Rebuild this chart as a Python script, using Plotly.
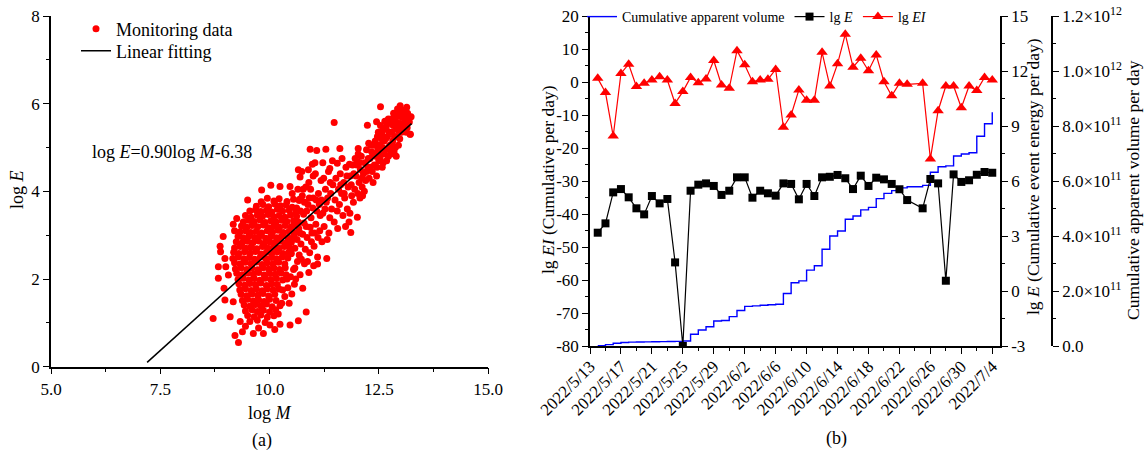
import plotly.graph_objects as go
import pandas as pd

W, H = 1146, 451
FONT = "Liberation Serif"

# ---------------- panel (a): log M vs log E ----------------
monitoring_points = [
    # dense core
    (9.50,3.80),(9.81,3.76),(9.95,3.84),(10.10,3.78),(10.22,3.83),(10.40,3.77),(10.55,3.82),(10.68,3.79),
    (9.70,3.66),(9.85,3.70),(9.98,3.65),(10.12,3.71),(10.25,3.67),(10.38,3.69),(10.52,3.64),
    (9.55,3.55),(9.68,3.58),(9.80,3.54),(9.93,3.57),(10.05,3.53),(10.18,3.59),(10.30,3.55),(10.45,3.57),(10.60,3.52),
    (9.45,3.45),(9.58,3.41),(9.72,3.46),(9.84,3.43),(9.97,3.47),(10.10,3.42),(10.22,3.45),(10.35,3.41),(10.48,3.46),(10.62,3.43),
    (9.40,3.30),(9.52,3.34),(9.65,3.31),(9.78,3.35),(9.90,3.29),(10.03,3.33),(10.15,3.30),(10.28,3.34),(10.40,3.31),(10.55,3.33),
    (9.36,3.21),(9.48,3.18),(9.60,3.22),(9.73,3.19),(9.86,3.23),(9.98,3.17),(10.10,3.21),(10.23,3.18),(10.36,3.22),(10.50,3.19),(10.64,3.21),
    (9.32,3.07),(9.45,3.10),(9.57,3.06),(9.70,3.09),(9.82,3.05),(9.95,3.10),(10.07,3.07),(10.20,3.11),(10.32,3.06),(10.45,3.09),(10.58,3.05),
    (9.28,2.97),(9.40,2.94),(9.53,2.98),(9.66,2.95),(9.78,2.99),(9.91,2.93),(10.03,2.97),(10.16,2.94),(10.28,2.98),(10.42,2.95),(10.55,2.97),
    (9.24,2.85),(9.37,2.82),(9.50,2.86),(9.62,2.83),(9.75,2.87),(9.87,2.81),(10.00,2.85),(10.12,2.83),(10.25,2.86),(10.38,2.82),(10.50,2.84),
    (9.20,2.71),(9.33,2.74),(9.46,2.70),(9.58,2.73),(9.71,2.69),(9.84,2.74),(9.96,2.71),(10.09,2.73),(10.22,2.70),(10.34,2.74),(10.47,2.71),
    (9.18,2.61),(9.30,2.58),(9.43,2.62),(9.56,2.59),(9.68,2.63),(9.81,2.57),(9.93,2.61),(10.06,2.59),(10.18,2.62),(10.31,2.58),(10.44,2.61),
    (9.16,2.47),(9.28,2.50),(9.41,2.46),(9.54,2.49),(9.66,2.45),(9.79,2.50),(9.91,2.47),(10.04,2.49),(10.16,2.46),(10.29,2.50),(10.42,2.48),
    (9.20,2.37),(9.33,2.34),(9.45,2.38),(9.58,2.35),(9.70,2.39),(9.83,2.33),(9.95,2.37),(10.08,2.35),(10.21,2.38),(10.35,2.34),
    (9.22,2.23),(9.35,2.26),(9.48,2.22),(9.60,2.25),(9.73,2.21),(9.85,2.26),(9.98,2.23),(10.10,2.25),(10.23,2.22),(10.36,2.26),
    (9.25,2.13),(9.38,2.10),(9.50,2.14),(9.63,2.11),(9.75,2.15),(9.88,2.09),(10.00,2.13),(10.13,2.11),(10.26,2.14),
    (9.28,1.99),(9.40,2.02),(9.53,1.98),(9.65,2.01),(9.78,1.97),(9.90,2.02),(10.03,1.99),(10.16,2.01),(10.30,1.98),
    (9.30,1.89),(9.43,1.86),(9.55,1.90),(9.68,1.87),(9.80,1.91),(9.93,1.85),(10.05,1.89),(10.18,1.87),
    (9.32,1.75),(9.45,1.78),(9.58,1.74),(9.70,1.77),(9.83,1.73),(9.95,1.78),(10.08,1.75),(10.22,1.77),
    (9.35,1.65),(9.48,1.62),(9.60,1.66),(9.73,1.63),(9.85,1.67),(9.98,1.61),(10.12,1.65),
    (9.38,1.51),(9.50,1.54),(9.63,1.50),(9.75,1.53),(9.88,1.49),(10.00,1.54),(10.15,1.51),
    (9.42,1.41),(9.55,1.38),(9.68,1.42),(9.80,1.39),(9.93,1.43),(10.06,1.37),
    (9.45,1.27),(9.60,1.30),(9.72,1.26),(9.86,1.29),(10.00,1.25),(10.14,1.30),
    (9.50,1.17),(9.65,1.14),(9.80,1.18),(9.95,1.13),(10.10,1.16),
    (9.55,1.03),(9.72,1.06),(9.90,1.01),
    # scattered edge points
    (8.71,1.10),(8.83,2.02),(8.94,2.97),(8.87,2.75),(8.88,2.62),(8.98,2.47),(8.83,2.28),(9.00,2.28),
    (9.06,2.09),(8.96,1.79),(8.98,1.52),(9.17,1.48),(9.10,1.14),(9.21,0.71),(9.29,0.55),(9.63,0.76),
    (9.86,0.76),(9.33,1.03),(10.01,0.95),(10.24,0.97),(10.47,0.95),(10.66,1.05),(10.84,1.25),(10.51,1.66),
    (10.45,1.45),(10.24,1.39),(10.57,1.88),(9.82,4.03),(10.03,4.14),(10.24,4.11),(10.47,4.11),(10.70,4.33),
    (9.25,3.38),(9.17,3.25),(9.20,3.10),(9.45,0.92),(9.75,0.88),(10.12,0.85),(9.38,0.80),
    # right edge of the core
    (10.50,2.58),(10.55,2.22),(10.48,2.05),(10.42,1.80),(10.38,2.10),(10.35,1.60),(10.30,1.75),(10.28,1.45),
    (10.20,1.20),(10.40,2.00),
    # transition 10.5 - 11.4
    (10.62,3.62),(10.66,3.30),(10.70,3.05),(10.72,2.80),(10.68,2.55),(10.75,3.90),(10.78,3.48),(10.80,2.35),
    (10.84,3.20),(10.86,2.95),(10.88,3.70),(10.90,4.20),(10.92,2.60),(10.95,3.40),(10.97,3.05),(11.00,3.85),
    (11.02,2.75),(11.05,4.40),(11.06,3.25),(11.08,3.55),(11.10,2.50),(11.12,3.95),(11.15,3.10),(11.18,4.25),
    (11.20,2.85),(10.74,4.45),(10.83,4.10),(10.65,4.05),(10.70,2.10),(10.58,2.25),(10.90,2.15),(11.14,3.70),
    (10.98,4.62),(10.80,3.75),(10.60,2.00),
    (10.52,3.95),(10.58,2.70),(10.63,2.90),(10.67,3.15),(10.71,3.55),(10.73,2.45),(10.76,3.02),(10.79,3.28),
    (10.82,2.68),(10.85,3.55),(10.87,2.40),(10.91,3.85),(10.93,3.18),(10.96,2.85),(10.99,3.62),(11.03,3.05),
    (11.07,3.80),(11.11,2.95),(11.16,3.45),(11.19,3.80),(11.24,4.30),(11.27,3.60),(11.33,3.85),(11.39,4.20),
    (10.57,3.25),(10.64,2.40),(10.77,4.05),(10.69,3.82),(10.94,4.05),(11.01,2.30),
    # 11.2 - 11.9
    (11.22,3.50),(11.25,3.20),(11.28,4.05),(11.30,3.75),(11.32,2.90),(11.35,4.45),(11.38,3.40),(11.40,3.95),
    (11.42,3.60),(11.45,4.15),(11.48,3.30),(11.50,3.80),(11.52,4.30),(11.55,3.55),(11.58,4.05),(11.60,3.70),
    (11.62,4.40),(11.65,3.95),(11.68,3.45),(11.70,4.20),(11.72,3.85),(11.75,4.55),(11.78,3.60),(11.80,4.10),
    (11.82,3.30),(11.85,4.35),(11.88,3.90),(11.90,4.60),(11.36,3.05),(11.44,4.70),(11.56,3.15),(11.66,4.75),
    (11.74,3.20),(11.92,3.75),(11.63,4.15),(11.77,4.35),(11.87,4.15),(11.93,4.40),(11.71,3.95),
    # 11.9 - 12.5
    (11.95,4.05),(11.98,4.35),(12.00,4.60),(12.02,3.95),(12.05,4.20),(12.08,4.50),(12.10,4.80),(12.12,4.10),
    (12.15,4.40),(12.18,4.65),(12.20,4.25),(12.22,4.95),(12.25,4.55),(12.28,4.30),(12.30,4.75),(12.32,5.05),
    (12.35,4.45),(12.38,4.85),(12.40,4.60),(12.42,5.15),(12.45,4.35),(12.48,4.95),(12.50,4.70),(12.03,4.85),
    (12.13,3.90),(12.27,5.10),(12.37,4.20),(12.47,5.25),(12.17,4.00),(12.07,3.85),(12.06,4.65),(12.11,4.30),
    (11.96,4.75),(12.22,4.45),(12.26,4.75),(12.31,4.55),(12.34,4.90),(12.39,5.05),(12.43,4.80),(12.46,4.55),
    (12.49,5.35),
    # 12.5 - 13.25
    (12.52,5.05),(12.55,4.85),(12.57,5.30),(12.60,4.65),(12.62,5.15),(12.65,4.95),(12.67,5.45),(12.70,5.25),
    (12.72,4.80),(12.75,5.05),(12.77,5.55),(12.80,5.35),(12.82,5.15),(12.85,4.90),(12.87,5.65),(12.90,5.45),
    (12.92,5.25),(12.95,5.05),(12.97,5.75),(13.00,5.55),(13.02,5.35),(13.05,5.70),(13.08,5.50),(13.10,5.80),
    (13.12,5.62),(13.15,5.45),(13.18,5.72),(13.22,5.30),(13.24,5.70),(12.58,4.55),(12.68,4.70),(12.78,4.85),
    (12.88,5.00),(12.60,5.40),(12.72,5.65),(12.84,5.78),(12.98,5.20),(13.06,5.85),(12.54,5.50),(12.64,5.60),
    (12.90,4.80),(12.93,5.88),(12.53,4.75),(12.56,5.20),(12.59,5.00),(12.63,4.85),(12.66,5.20),(12.69,5.55),
    (12.74,5.35),(12.76,4.95),(12.79,5.65),(12.83,5.50),(12.86,5.25),(12.89,5.60),(12.94,5.40),(12.96,5.55),
    (13.01,5.70),(13.04,5.45),(13.09,5.65),(13.13,5.35),(13.16,5.78),(13.20,5.58),(12.81,5.05),(12.99,5.95),
    # isolated points
    (11.48,5.57),(12.54,5.93),(13.14,5.92),(13.22,5.30),(11.31,2.47),(11.10,2.34),(10.76,1.79),(11.84,3.50),
    (12.01,3.41),(11.86,3.06),(10.93,4.96),(11.08,4.93),(11.29,4.96),(11.61,4.98),(11.04,4.65),(11.22,4.65),
    (11.38,4.52),(11.55,4.64),(11.83,4.62),(10.66,4.49),(10.89,4.49),(11.00,4.35),(12.03,4.98),(12.01,4.68),
    (12.24,5.51),(12.45,5.59),
]
log_m = [p[0] for p in monitoring_points]
log_e = [p[1] for p in monitoring_points]

fit_slope, fit_intercept = 0.90, -6.38
fit_m = [7.2, 13.25]
fit_e = [fit_slope * m + fit_intercept for m in fit_m]

# ---------------- panel (b): daily monitoring series ----------------
days = [d for d in pd.date_range("2022-05-14", "2022-07-04") if d != pd.Timestamp("2022-06-24")]

lg_e_daily = [3.18, 3.69, 5.38, 5.56, 5.11, 4.51, 4.18, 5.18, 4.78, 5.02,
              1.56, -3.00, 5.47, 5.80, 5.87, 5.73, 5.24, 5.47, 6.20, 6.20,
              5.09, 5.47, 5.33, 5.20, 5.87, 5.84, 5.00, 5.84, 5.18, 6.20,
              6.23, 6.33, 6.15, 5.56, 6.29, 5.73, 6.18, 6.09, 5.84, 5.55,
              4.96, 4.51, 6.11, 5.87, 0.56, 6.36, 5.95, 6.04, 6.34, 6.49, 6.45]

lg_ei_daily = [1.1, -3.2, -16.4, 2.6, 5.4, -1.4, -0.4, 0.6, 1.6, 0.6,
               -6.5, -2.9, 1.4, -0.2, 0.9, 6.5, -0.9, -1.9, 9.5, 5.2,
               0.1, 0.6, 0.8, 3.8, -13.7, -10.0, -2.4, -5.5, -5.5, 9.0,
               -1.2, 5.5, 14.5, 4.5, 7.2, 3.4, 8.2, 0.1, -4.2, -0.4,
               -0.7, -0.4, -23.3, -8.7, -1.2, -1.2, -7.8, -1.2, -2.6, 1.4, 0.6]

# cumulative apparent volume, in units of 1e11
cum_volume_e11 = [0.01, 0.05, 0.10, 0.13, 0.14, 0.145, 0.15, 0.155, 0.16, 0.165,
                  0.17, 0.18, 0.43, 0.58, 0.70, 0.91, 0.93, 1.07, 1.29, 1.44,
                  1.46, 1.48, 1.50, 1.52, 1.91, 2.30, 2.37, 2.76, 2.92, 3.52,
                  4.00, 4.18, 4.61, 4.73, 4.95, 5.04, 5.36, 5.55, 5.65, 5.75,
                  5.79, 5.84, 6.32, 6.52, 6.55, 6.91, 6.98, 7.03, 7.63, 8.08, 8.50]
cum_volume = [v * 1e11 for v in cum_volume_e11]

date_ticks = ["2022-05-13", "2022-05-17", "2022-05-21", "2022-05-25", "2022-05-29",
              "2022-06-02", "2022-06-06", "2022-06-10", "2022-06-14", "2022-06-18",
              "2022-06-22", "2022-06-26", "2022-06-30", "2022-07-04"]
date_labels = ["2022/5/13", "2022/5/17", "2022/5/21", "2022/5/25", "2022/5/29",
               "2022/6/2", "2022/6/6", "2022/6/10", "2022/6/14", "2022/6/18",
               "2022/6/22", "2022/6/26", "2022/6/30", "2022/7/4"]
ei_ticks = [-80, -70, -60, -50, -40, -30, -20, -10, 0, 10, 20]
e_ticks = [-3, 0, 3, 6, 9, 12, 15]
vol_ticks = [0, 2e11, 4e11, 6e11, 8e11, 1.0e12, 1.2e12]
vol_labels = ["0.0", "2.0×10<sup>11</sup>", "4.0×10<sup>11</sup>", "6.0×10<sup>11</sup>",
              "8.0×10<sup>11</sup>", "1.0×10<sup>12</sup>", "1.2×10<sup>12</sup>"]


def px_x(p):
    return p / W


def px_y(p):
    return 1 - p / H


fig = go.Figure()

# panel (a)
fig.add_trace(go.Scatter(
    x=log_m, y=log_e, mode="markers", name="Monitoring data",
    marker=dict(color="#ff0000", size=7, line=dict(width=0)),
    xaxis="x", yaxis="y", legend="legend2"))
fig.add_trace(go.Scatter(
    x=fit_m, y=fit_e, mode="lines", name="Linear fitting",
    line=dict(color="black", width=1.5),
    xaxis="x", yaxis="y", legend="legend3"))

# panel (b)
fig.add_trace(go.Scatter(
    x=days, y=cum_volume, mode="lines", name="Cumulative apparent volume",
    line=dict(color="#0000ff", width=1.4, shape="hv"),
    xaxis="x2", yaxis="y2"))
fig.add_trace(go.Scatter(
    x=days, y=lg_e_daily, mode="lines+markers", name="lg <i>E</i>",
    line=dict(color="black", width=1.2),
    marker=dict(symbol="square", size=8, color="black"),
    xaxis="x2", yaxis="y3"))
fig.add_trace(go.Scatter(
    x=days, y=lg_ei_daily, mode="lines+markers", name="lg <i>EI</i>",
    line=dict(color="#ff0000", width=1.2),
    marker=dict(symbol="triangle-up", size=10, color="#ff0000"),
    xaxis="x2", yaxis="y4"))

axis_common = dict(showgrid=False, zeroline=False, showline=True, linecolor="black",
                   linewidth=1.5, ticks="outside", ticklen=6, tickwidth=1.3, automargin=False,
                   tickcolor="black", tickfont=dict(family=FONT, size=17, color="black"))
minor_common = dict(ticks="outside", ticklen=3.5, tickwidth=1.3, tickcolor="black")
legend_common = dict(bgcolor="rgba(0,0,0,0)", itemwidth=30, tracegroupgap=0,
                     xanchor="left", yanchor="middle")

fig.update_layout(
    template="none",
    width=W, height=H,
    margin=dict(l=0, r=0, t=0, b=0, autoexpand=False),
    paper_bgcolor="white", plot_bgcolor="white",
    font=dict(family=FONT, size=17, color="black"),
    showlegend=True,
    xaxis=dict(**axis_common, domain=[px_x(51), px_x(488)], anchor="y",
               range=[5, 15], tickvals=[5, 7.5, 10, 12.5, 15], tickformat=".1f",
               minor=dict(**minor_common, tick0=5, dtick=1.25)),
    yaxis=dict(**axis_common, domain=[px_y(366.7), px_y(16)], anchor="x",
               range=[0, 8], tickvals=[0, 2, 4, 6, 8],
               minor=dict(**minor_common, tick0=0, dtick=1)),
    xaxis2=dict(**axis_common, domain=[px_x(590), px_x(1000)], anchor="y3",
                type="date", range=["2022-05-13", "2022-07-05"],
                tickmode="array", tickvals=date_ticks, ticktext=date_labels, tickangle=-45,
                ticklabelstandoff=-4,
                minor=dict(**minor_common, tick0="2022-05-13", dtick=2 * 86400000)),
    yaxis2=dict(**axis_common, domain=[px_y(346), px_y(16)], anchor="free",
                position=px_x(1052), side="right", range=[0, 1.2e12],
                tickmode="array", tickvals=vol_ticks, ticktext=vol_labels,
                minor=dict(**minor_common, tick0=0, dtick=1e11)),
    yaxis3=dict(**axis_common, overlaying="y2", anchor="x2", side="right",
                range=[-3, 15], tickmode="array", tickvals=e_ticks,
                ticktext=[str(v) for v in e_ticks],
                minor=dict(**minor_common, tick0=-3, dtick=1.5)),
    yaxis4=dict(**axis_common, overlaying="y2", anchor="x2", side="left",
                range=[-80, 20], tickmode="array", tickvals=ei_ticks,
                ticktext=[str(v) for v in ei_ticks],
                minor=dict(**minor_common, tick0=-80, dtick=5)),
    legend=dict(**legend_common, orientation="h", x=px_x(582), y=px_y(17),
                font=dict(family=FONT, size=14)),
    legend2=dict(**legend_common, orientation="v", x=px_x(76), y=px_y(29),
                 font=dict(family=FONT, size=18)),
    legend3=dict(**legend_common, orientation="v", x=px_x(76), y=px_y(51),
                 font=dict(family=FONT, size=18)),
)

title_font = dict(family=FONT, size=17.5, color="black")
annotations = [
    dict(text="log <i>E</i>", x=px_x(17), y=px_y(190), textangle=-90, size=18),
    dict(text="log <i>M</i>", x=px_x(270), y=px_y(413), size=18),
    dict(text="(a)", x=px_x(262), y=px_y(440), size=18),
    dict(text="lg <i>EI</i> (Cumulative per day)", x=px_x(548), y=px_y(180), textangle=-90, size=17.5),
    dict(text="lg <i>E</i> (Cumulative event energy per day)", x=px_x(1033), y=px_y(177), textangle=-90, size=17.5),
    dict(text="Cumulative apparent volume per day", x=px_x(1133), y=px_y(190), textangle=-90, size=17.5),
    dict(text="(b)", x=px_x(836), y=px_y(438), size=18),
]
for a in annotations:
    size = a.pop("size")
    fig.add_annotation(xref="paper", yref="paper", showarrow=False,
                       xanchor="center", yanchor="middle",
                       font=dict(family=FONT, size=size, color="black"), **a)

fig.add_annotation(text="log <i>E</i>=0.90log <i>M</i>-6.38", x=7.76, y=4.90, xref="x", yref="y",
                   showarrow=False, xanchor="center", yanchor="middle",
                   font=dict(family=FONT, size=18, color="black"))

fig.write_html("out.html")
